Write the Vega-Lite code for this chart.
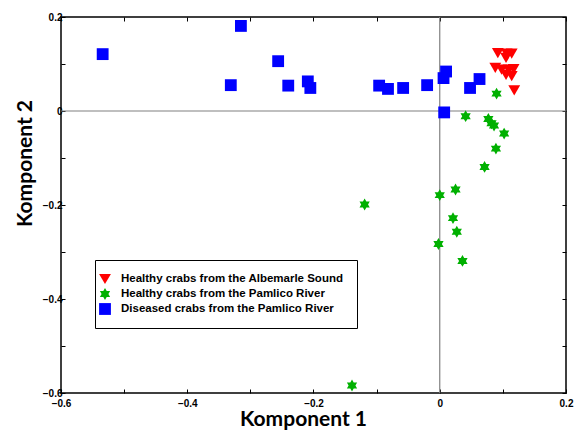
{
  "$schema": "https://vega.github.io/schema/vega-lite/v6.json",
  "width": 505,
  "height": 376,
  "autosize": {"type": "none"},
  "padding": {"left": 61, "top": 17, "right": 10, "bottom": 37},
  "background": "white",
  "config": {
    "view": {"stroke": "#000", "strokeWidth": 1.5},
    "axis": {
      "domain": false,
      "grid": false,
      "tickColor": "#000",
      "tickSize": -4,
      "tickWidth": 1,
      "labelFont": "Arial",
      "labelFontWeight": "bold",
      "labelFontSize": 10,
      "labelColor": "#000",
      "labelFlush": false,
      "labelOverlap": false,
      "titleFont": "Lato",
      "titleFontWeight": "bold",
      "titleFontSize": 21,
      "titleColor": "#000"
    }
  },
  "resolve": {"axis": {"x": "independent", "y": "independent"}},
  "layer": [
    {
      "data": {"values": [{}]},
      "mark": {"type": "rule", "color": "#808080", "strokeWidth": 1.2},
      "encoding": {
        "x": {
          "datum": 0,
          "type": "quantitative",
          "scale": {"domain": [-0.6, 0.2], "nice": false, "zero": false},
          "axis": {"orient": "top", "labels": false, "title": null, "values": [-0.6, -0.5, -0.4, -0.3, -0.2, -0.1, 0, 0.1, 0.2]}
        }
      }
    },
    {
      "data": {"values": [{}]},
      "mark": {"type": "rule", "color": "#808080", "strokeWidth": 1.2},
      "encoding": {
        "y": {
          "datum": 0,
          "type": "quantitative",
          "scale": {"domain": [-0.6, 0.2], "nice": false, "zero": false},
          "axis": {"orient": "right", "labels": false, "title": null, "values": [-0.6, -0.5, -0.4, -0.3, -0.2, -0.1, 0, 0.1, 0.2]}
        }
      }
    },
    {
      "data": {
        "values": [
          {"group": "Diseased crabs from the Pamlico River", "k1": -0.534, "k2": 0.121},
          {"group": "Diseased crabs from the Pamlico River", "k1": -0.315, "k2": 0.181},
          {"group": "Diseased crabs from the Pamlico River", "k1": -0.331, "k2": 0.055},
          {"group": "Diseased crabs from the Pamlico River", "k1": -0.256, "k2": 0.106},
          {"group": "Diseased crabs from the Pamlico River", "k1": -0.240, "k2": 0.054},
          {"group": "Diseased crabs from the Pamlico River", "k1": -0.209, "k2": 0.063},
          {"group": "Diseased crabs from the Pamlico River", "k1": -0.205, "k2": 0.049},
          {"group": "Diseased crabs from the Pamlico River", "k1": -0.096, "k2": 0.054},
          {"group": "Diseased crabs from the Pamlico River", "k1": -0.082, "k2": 0.047},
          {"group": "Diseased crabs from the Pamlico River", "k1": -0.058, "k2": 0.049},
          {"group": "Diseased crabs from the Pamlico River", "k1": -0.020, "k2": 0.055},
          {"group": "Diseased crabs from the Pamlico River", "k1": 0.006, "k2": 0.070},
          {"group": "Diseased crabs from the Pamlico River", "k1": 0.010, "k2": 0.084},
          {"group": "Diseased crabs from the Pamlico River", "k1": 0.007, "k2": -0.003},
          {"group": "Diseased crabs from the Pamlico River", "k1": 0.048, "k2": 0.049},
          {"group": "Diseased crabs from the Pamlico River", "k1": 0.063, "k2": 0.068},
          {"group": "Healthy crabs from the Pamlico River", "k1": 0.090, "k2": 0.037},
          {"group": "Healthy crabs from the Pamlico River", "k1": 0.041, "k2": -0.011},
          {"group": "Healthy crabs from the Pamlico River", "k1": 0.077, "k2": -0.017},
          {"group": "Healthy crabs from the Pamlico River", "k1": 0.082, "k2": -0.026},
          {"group": "Healthy crabs from the Pamlico River", "k1": 0.086, "k2": -0.031},
          {"group": "Healthy crabs from the Pamlico River", "k1": 0.102, "k2": -0.048},
          {"group": "Healthy crabs from the Pamlico River", "k1": 0.089, "k2": -0.080},
          {"group": "Healthy crabs from the Pamlico River", "k1": 0.071, "k2": -0.119},
          {"group": "Healthy crabs from the Pamlico River", "k1": 0.025, "k2": -0.167},
          {"group": "Healthy crabs from the Pamlico River", "k1": 0.000, "k2": -0.179},
          {"group": "Healthy crabs from the Pamlico River", "k1": -0.119, "k2": -0.199},
          {"group": "Healthy crabs from the Pamlico River", "k1": 0.021, "k2": -0.228},
          {"group": "Healthy crabs from the Pamlico River", "k1": 0.027, "k2": -0.257},
          {"group": "Healthy crabs from the Pamlico River", "k1": -0.002, "k2": -0.283},
          {"group": "Healthy crabs from the Pamlico River", "k1": 0.036, "k2": -0.319},
          {"group": "Healthy crabs from the Pamlico River", "k1": -0.139, "k2": -0.584},
          {"group": "Healthy crabs from the Albemarle Sound", "k1": 0.092, "k2": 0.123},
          {"group": "Healthy crabs from the Albemarle Sound", "k1": 0.106, "k2": 0.122},
          {"group": "Healthy crabs from the Albemarle Sound", "k1": 0.114, "k2": 0.122},
          {"group": "Healthy crabs from the Albemarle Sound", "k1": 0.105, "k2": 0.113},
          {"group": "Healthy crabs from the Albemarle Sound", "k1": 0.088, "k2": 0.092},
          {"group": "Healthy crabs from the Albemarle Sound", "k1": 0.098, "k2": 0.088},
          {"group": "Healthy crabs from the Albemarle Sound", "k1": 0.109, "k2": 0.088},
          {"group": "Healthy crabs from the Albemarle Sound", "k1": 0.117, "k2": 0.089},
          {"group": "Healthy crabs from the Albemarle Sound", "k1": 0.105, "k2": 0.077},
          {"group": "Healthy crabs from the Albemarle Sound", "k1": 0.114, "k2": 0.074},
          {"group": "Healthy crabs from the Albemarle Sound", "k1": 0.118, "k2": 0.044}
        ]
      },
      "mark": {"type": "point", "filled": true, "opacity": 1, "size": 140},
      "encoding": {
        "x": {
          "field": "k1",
          "type": "quantitative",
          "scale": {"domain": [-0.6, 0.2], "nice": false, "zero": false},
          "axis": {
            "orient": "bottom",
            "title": "Komponent 1",
            "values": [-0.6, -0.5, -0.4, -0.3, -0.2, -0.1, 0, 0.1, 0.2],
            "labelExpr": "round(datum.value*10) % 2 == 0 ? (round(datum.value*10) == 0 ? '0' : format(datum.value, '.1f')) : ''",
            "labelPadding": 9,
            "titleX": 242,
            "titleY": 32,
            "titleBaseline": "alphabetic",
            "titleAnchor": null
          }
        },
        "y": {
          "field": "k2",
          "type": "quantitative",
          "scale": {"domain": [-0.6, 0.2], "nice": false, "zero": false},
          "axis": {
            "orient": "left",
            "title": "Komponent 2",
            "values": [-0.6, -0.5, -0.4, -0.3, -0.2, -0.1, 0, 0.1, 0.2],
            "labelExpr": "round(datum.value*10) % 2 == 0 ? (round(datum.value*10) == 0 ? '0' : format(datum.value, '.1f')) : ''",
            "labelPadding": 3,
            "titleX": -30,
            "titleY": 146,
            "titleBaseline": "alphabetic"
          }
        },
        "color": {
          "field": "group",
          "type": "nominal",
          "scale": {
            "domain": ["Healthy crabs from the Albemarle Sound", "Healthy crabs from the Pamlico River", "Diseased crabs from the Pamlico River"],
            "range": ["#ff0000", "#00b000", "#0000ff"]
          },
          "legend": {
            "title": null,
            "orient": "none",
            "legendX": 34,
            "legendY": 243,
            "strokeColor": "#000",
            "fillColor": "#fff",
            "padding": 13,
            "labelFont": "Arial",
            "labelFontWeight": "bold",
            "labelFontSize": 11.5,
            "labelColor": "#000",
            "labelLimit": 400,
            "labelOffset": 10,
            "rowPadding": 3,
            "symbolOffset": -9,
            "symbolSize": 140,
            "symbolOpacity": 1,
            "symbolStrokeWidth": 0
          }
        },
        "shape": {
          "field": "group",
          "type": "nominal",
          "scale": {
            "domain": ["Healthy crabs from the Albemarle Sound", "Healthy crabs from the Pamlico River", "Diseased crabs from the Pamlico River"],
            "range": ["triangle-down", "M0,-1L0.289,-0.5L0.866,-0.5L0.577,0L0.866,0.5L0.289,0.5L0,1L-0.289,0.5L-0.866,0.5L-0.577,0L-0.866,-0.5L-0.289,-0.5Z", "square"]
          },
          "legend": null
        }
      }
    }
  ]
}
